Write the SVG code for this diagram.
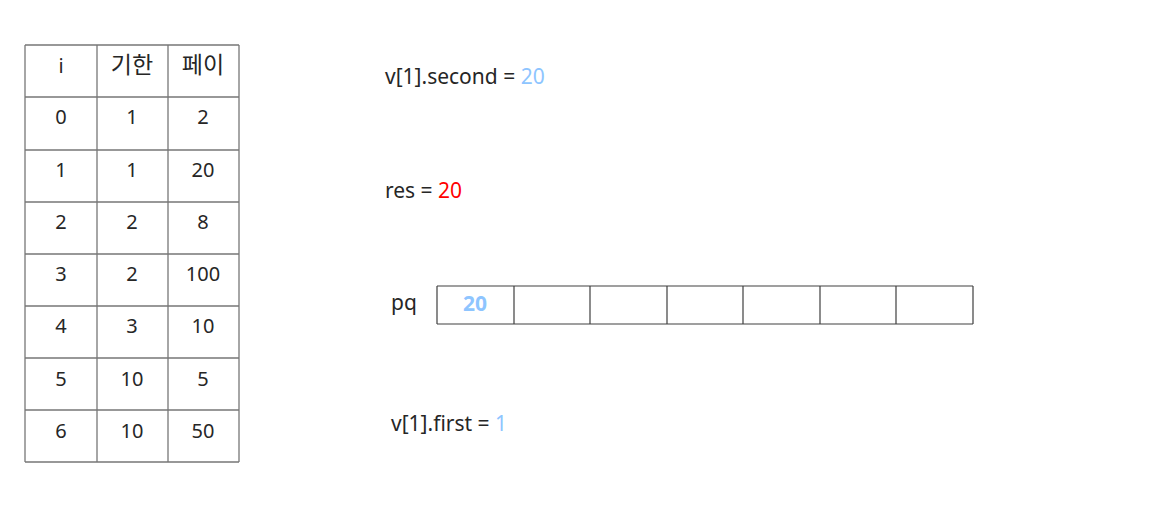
<svg xmlns="http://www.w3.org/2000/svg" width="1172" height="510" viewBox="0 0 1172 510">
<style>
.t{font-family:"Noto Sans","Noto Sans CJK KR",sans-serif;font-size:21px;fill:#262626;}
.n{font-size:20px;}
.k{font-size:23px;}
.c{text-anchor:middle;}
.g{stroke:#777;stroke-width:1.3;fill:none;}
.d{stroke:#404040;stroke-width:1.2;fill:none;}
.b{fill:#8EC5FF;}
.r{fill:#FF0000;}
</style>
<rect width="1172" height="510" fill="#fff"/>
<g id="table">
<path class="g" d="M25 45H239M25 97H239M25 150H239M25 202H239M25 254H239M25 306H239M25 358H239M25 410H239M25 462H239M25 45V462M97 45V462M168 45V462M239 45V462"/>
<g class="t n c">
<text x="61" y="73">i</text><text class="k" x="132" y="73">기한</text><text class="k" x="203" y="73">페이</text>
<text x="61" y="124">0</text><text x="132" y="124">1</text><text x="203" y="124">2</text>
<text x="61" y="177">1</text><text x="132" y="177">1</text><text x="203" y="177">20</text>
<text x="61" y="229">2</text><text x="132" y="229">2</text><text x="203" y="229">8</text>
<text x="61" y="281">3</text><text x="132" y="281">2</text><text x="203" y="281">100</text>
<text x="61" y="333">4</text><text x="132" y="333">3</text><text x="203" y="333">10</text>
<text x="61" y="386">5</text><text x="132" y="386">10</text><text x="203" y="386">5</text>
<text x="61" y="438">6</text><text x="132" y="438">10</text><text x="203" y="438">50</text>
</g>
</g>
<g id="second"><text class="t" x="385" y="84">v[1].second = <tspan class="b">20</tspan></text></g>
<g id="res"><text class="t" x="385" y="198">res = <tspan class="r">20</tspan></text></g>
<g id="pq">
<text class="t" x="391" y="310">pq</text>
<path class="d" d="M437 286H973M437 324H973M437 286V324M514 286V324M590 286V324M667 286V324M743 286V324M820 286V324M896 286V324M973 286V324"/>
<text class="t c b" x="475" y="311" font-weight="bold" font-size="19">20</text>
</g>
<g id="first"><text class="t" x="391" y="431">v[1].first = <tspan class="b">1</tspan></text></g>
</svg>
